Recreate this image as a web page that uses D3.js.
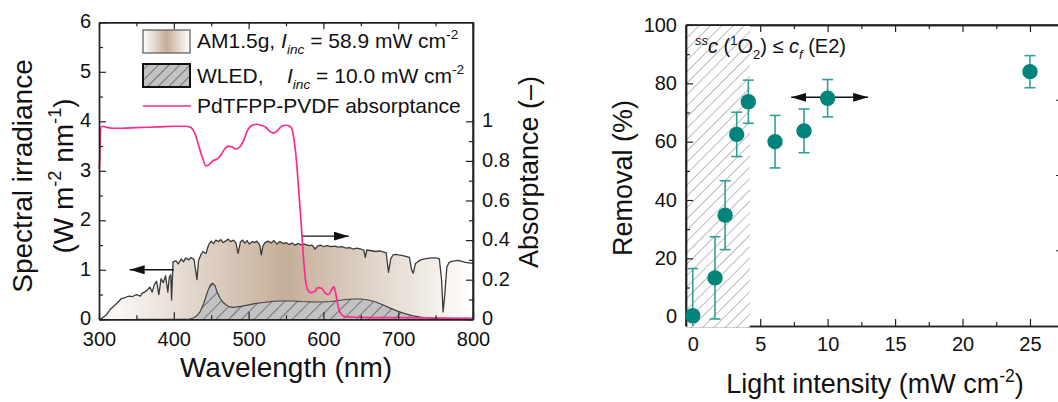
<!DOCTYPE html>
<html><head><meta charset="utf-8">
<script src="https://cdn.jsdelivr.net/npm/d3@7"></script>
<style>
body{margin:0;background:#fff}
svg{display:block}
text{font-family:"Liberation Sans",Arial,sans-serif;fill:#111}
</style>
</head><body>
<svg id="c" width="1058" height="402"></svg>
<script>
// ---------- DATA ----------
const amWavelength = [300,305,310,315,320,325,330,335,340,345,350,355,358,362,365,368,371,374,377,380,383,386,389,392,394,396,397,399,403,406,410,413,416,420,423,427,431,433,436,439,443,446,448,450,453,456,460,463,466,470,473,476,480,483,486,489,492,495,498,501,505,508,511,515,517,519,522,526,530,534,538,542,546,550,554,558,562,566,570,575,580,585,589,592,596,600,605,610,615,620,625,630,635,640,645,650,654,656,658,662,666,670,675,680,684,687,690,693,697,700,705,710,715,718,720,723,726,730,735,740,745,750,755,758,760,762,765,768,772,776,780,785,790,795,800];
const amIrradiance = [0.0,0.03,0.09,0.2,0.27,0.34,0.42,0.44,0.47,0.46,0.5,0.47,0.53,0.56,0.6,0.65,0.55,0.7,0.77,0.5,0.82,0.74,0.88,0.55,0.85,0.9,0.39,1.16,1.18,1.12,1.22,1.16,1.24,1.2,1.25,1.21,0.8,1.18,1.3,1.37,1.33,1.48,1.54,1.58,1.53,1.6,1.57,1.61,1.55,1.59,1.62,1.57,1.6,1.55,1.33,1.56,1.6,1.54,1.59,1.52,1.57,1.55,1.58,1.5,1.3,1.48,1.55,1.58,1.54,1.59,1.52,1.57,1.53,1.55,1.51,1.54,1.5,1.53,1.51,1.52,1.49,1.5,1.42,1.48,1.5,1.47,1.49,1.47,1.48,1.46,1.47,1.44,1.45,1.42,1.44,1.42,1.4,1.25,1.4,1.39,1.38,1.37,1.38,1.36,1.34,0.95,1.22,1.3,1.31,1.3,1.29,1.27,1.25,1.0,0.93,1.12,1.16,1.2,1.22,1.23,1.24,1.24,1.22,0.8,0.15,0.45,1.05,1.15,1.17,1.18,1.19,1.17,1.15,1.14,1.13];
const ledWavelength = [350,420,425,430,435,440,445,449,452,455,458,462,466,470,475,480,490,500,510,520,530,540,550,560,570,580,590,600,610,620,630,640,650,660,670,680,690,700,710,720,730,740,750,760,780,800];
const ledIrradiance = [0,0,0.02,0.06,0.15,0.32,0.55,0.7,0.73,0.68,0.55,0.42,0.34,0.29,0.25,0.24,0.26,0.29,0.32,0.34,0.36,0.37,0.37,0.37,0.36,0.355,0.35,0.35,0.36,0.38,0.4,0.41,0.41,0.39,0.35,0.29,0.22,0.16,0.11,0.07,0.045,0.03,0.02,0.01,0.005,0];
const absWavelength = [300,301,302,304,310,320,330,350,380,400,415,422,428,433,438,443,447,452,458,463,468,473,478,483,488,493,498,503,510,517,523,528,533,538,544,550,555,558,561,564,567,570,573,576,579,583,588,593,598,603,607,611,614,617,620,624,630,650,700,800];
const absorptance = [0.76,0.8,0.96,0.975,0.97,0.965,0.965,0.968,0.972,0.975,0.975,0.97,0.94,0.88,0.82,0.775,0.78,0.8,0.81,0.83,0.86,0.875,0.87,0.86,0.87,0.9,0.95,0.975,0.985,0.98,0.97,0.95,0.94,0.95,0.975,0.98,0.975,0.96,0.9,0.8,0.65,0.5,0.33,0.2,0.15,0.135,0.14,0.16,0.155,0.13,0.125,0.15,0.165,0.12,0.06,0.025,0.012,0.01,0.008,0.005];

const intensity  = [0, 1.65, 2.4, 3.26, 4.12, 6.1, 8.25, 10.0, 25.0];
const removal    = [0.3, 13.3, 34.8, 62.5, 73.7, 60.0, 63.7, 74.9, 84.0];
const removalErr = [16.2, 14.1, 11.8, 7.6, 7.4, 9.0, 7.5, 6.4, 5.5];

const wlTicks  = [300,400,500,600,700,800];
const wlMinor  = [350,450,550,650,750];
const irrTicks = [0,1,2,3,4,5,6];
const irrMinor = [0.5,1.5,2.5,3.5,4.5,5.5];
const absTicks = [0,0.2,0.4,0.6,0.8,1];
const absLabels = ["0","0.2","0.4","0.6","0.8","1"];
const absMinor = [0.1,0.3,0.5,0.7,0.9];
const intTicks = [0,5,10,15,20,25];
const intMinor = [2.5,7.5,12.5,17.5,22.5];
const remTicks = [0,20,40,60,80,100];
const remMinor = [10,30,50,70,90];

// ---------- SETUP ----------
const svg = d3.select("#c");
const defs = svg.append("defs");
const pink = "#ff2a8e";
const teal = "#00847b";
const tealErr = "#2f9f97";
const axisCol = "#222";

function rich(sel, parts, base) {
  let shift = 0;
  parts.forEach(p => {
    const target = p.pos === "sup" ? -base * 0.42 : p.pos === "sub" ? base * 0.28 : 0;
    const ts = sel.append("tspan").text(p.t).attr("dy", target - shift);
    shift = target;
    if (p.pos) ts.attr("font-size", base * 0.65);
    if (p.i) ts.attr("font-style", "italic");
    if (p.x != null) ts.attr("x", p.x);
  });
}

const g1 = defs.append("linearGradient").attr("id","amGrad").attr("gradientUnits","userSpaceOnUse");
const g2 = defs.append("linearGradient").attr("id","amGradLeg");
[[0,"#ffffff"],[0.5,"#c5ae98"],[1,"#ffffff"]].forEach(s=>{
  g1.append("stop").attr("offset",s[0]).attr("stop-color",s[1]);
  g2.append("stop").attr("offset",s[0]).attr("stop-color",s[1]);
});
function hatch(id, spacing, bg, col, w) {
  const p = defs.append("pattern").attr("id",id).attr("patternUnits","userSpaceOnUse")
    .attr("width",spacing).attr("height",spacing).attr("patternTransform","rotate(45)");
  if (bg) p.append("rect").attr("width",spacing).attr("height",spacing).attr("fill",bg);
  p.append("line").attr("x1",0).attr("y1",0).attr("x2",0).attr("y2",spacing)
    .attr("stroke",col).attr("stroke-width",w);
}
hatch("ledHatch", 9, "#c2c2c2", "#333", 1.1);
hatch("ledHatchLeg", 7.5, "#c2c2c2", "#333", 1.1);
hatch("grayHatch", 8, "#ffffff", "#858585", 1.1);

defs.append("marker").attr("id","arr").attr("markerUnits","userSpaceOnUse")
  .attr("markerWidth",16).attr("markerHeight",9).attr("refX",15).attr("refY",4.5)
  .attr("orient","auto-start-reverse")
  .append("path").attr("d","M0,0 L15,4.5 L0,9 Z").attr("fill","#111");

// ---------- LEFT PANEL ----------
const xL = d3.scaleLinear().domain([300,800]).range([99,473]);
const yL = d3.scaleLinear().domain([0,6]).range([319.3,22.3]);
const yA = d3.scaleLinear().domain([0,1.5]).range([319.3,22.3]);
g1.attr("x1",xL(300)).attr("x2",xL(800));

const L = svg.append("g");
const amData = amWavelength.map((w,i)=>[w,amIrradiance[i]]);
const ledData = ledWavelength.map((w,i)=>[w,ledIrradiance[i]]);
const absData = absWavelength.map((w,i)=>[w,absorptance[i]]);

L.append("path").datum(amData).attr("fill","url(#amGrad)")
  .attr("d", d3.area().x(d=>xL(d[0])).y0(yL(0)).y1(d=>yL(d[1])));
L.append("path").datum(ledData).attr("fill","url(#ledHatch)")
  .attr("d", d3.area().x(d=>xL(d[0])).y0(yL(0)).y1(d=>yL(d[1])));
L.append("path").datum(ledData).attr("fill","none").attr("stroke","#444").attr("stroke-width",1.2)
  .attr("d", d3.line().x(d=>xL(d[0])).y(d=>yL(d[1])));
L.append("path").datum(amData).attr("fill","none").attr("stroke","#3a3a3a").attr("stroke-width",1.3)
  .attr("stroke-linejoin","round")
  .attr("d", d3.line().x(d=>xL(d[0])).y(d=>yL(d[1])));
L.append("path").datum(absData).attr("fill","none").attr("stroke",pink).attr("stroke-width",1.7)
  .attr("d", d3.line().curve(d3.curveMonotoneX).x(d=>xL(d[0])).y(d=>yA(d[1])));

L.append("line").attr("x1",xL(400)).attr("x2",xL(341)).attr("y1",yL(1.0)).attr("y2",yL(1.0))
  .attr("stroke","#111").attr("stroke-width",1.4).attr("marker-end","url(#arr)");
L.append("line").attr("x1",xL(572)).attr("x2",xL(634)).attr("y1",yA(0.42)).attr("y2",yA(0.42))
  .attr("stroke","#111").attr("stroke-width",1.4).attr("marker-end","url(#arr)");

function styleAxis(g, fs) {
  g.selectAll(".domain").attr("stroke",axisCol).attr("stroke-width",1.4);
  g.selectAll(".tick line").attr("stroke",axisCol).attr("stroke-width",1.2);
  g.selectAll("text").attr("font-size",fs).attr("font-family",null);
  g.attr("font-family",null).attr("font-size",null);
}
function axes(panel, x, y, xt, xm, yt, ym, fs, xpad, ypad, yOffset) {
  const [x0,x1] = x.range(), [y0,y1] = y.range();
  let a;
  a = panel.append("g").attr("transform",`translate(0,${y0})`)
    .call(d3.axisBottom(x).tickValues(xt).tickSizeInner(-7).tickSizeOuter(0).tickPadding(xpad));
  styleAxis(a, fs);
  a = panel.append("g").attr("transform",`translate(0,${y0})`)
    .call(d3.axisBottom(x).tickValues(xm).tickSizeInner(-4).tickSizeOuter(0).tickFormat(""));
  styleAxis(a, fs);
  a = panel.append("g").attr("transform",`translate(0,${y1})`)
    .call(d3.axisTop(x).tickValues(xt).tickSizeInner(-7).tickSizeOuter(0).tickFormat(""));
  styleAxis(a, fs);
  a = panel.append("g").attr("transform",`translate(0,${y1})`)
    .call(d3.axisTop(x).tickValues(xm).tickSizeInner(-4).tickSizeOuter(0).tickFormat(""));
  styleAxis(a, fs);
  a = panel.append("g").attr("transform",`translate(${x0},0)`)
    .call(d3.axisLeft(y).tickValues(yt).tickSizeInner(-7).tickSizeOuter(0).tickPadding(ypad)
      .tickFormat(d3.format("d")));
  styleAxis(a, fs);
  if (yOffset) a.selectAll("text").attr("dy", yOffset);
  a = panel.append("g").attr("transform",`translate(${x0},0)`)
    .call(d3.axisLeft(y).tickValues(ym).tickSizeInner(-4).tickSizeOuter(0).tickFormat(""));
  styleAxis(a, fs);
}
axes(L, xL, yL, wlTicks, wlMinor, irrTicks, irrMinor, 20, 13, 8, "0.28em");
let ra = L.append("g").attr("transform",`translate(${xL(800)},0)`)
  .call(d3.axisRight(yA).tickValues(absTicks).tickSizeInner(-7).tickSizeOuter(0).tickPadding(9)
    .tickFormat((d,i)=>absLabels[i]));
styleAxis(ra, 20);
ra.selectAll("text").attr("dy","0.28em");
ra = L.append("g").attr("transform",`translate(${xL(800)},0)`)
  .call(d3.axisRight(yA).tickValues(absMinor).tickSizeInner(-4).tickSizeOuter(0).tickFormat(""));
styleAxis(ra, 20);
L.append("line").attr("x1",xL(800)).attr("x2",xL(800)).attr("y1",yA(1.5)).attr("y2",yA(0))
  .attr("stroke",axisCol).attr("stroke-width",1.4);

L.append("text").attr("x",(xL(300)+xL(800))/2).attr("y",377).attr("text-anchor","middle")
  .attr("font-size",28).text("Wavelength (nm)");
L.append("text").attr("transform","translate(32,176) rotate(-90)").attr("text-anchor","middle")
  .attr("font-size",28).text("Spectral irradiance");
rich(L.append("text").attr("transform","translate(73,176) rotate(-90)").attr("text-anchor","middle").attr("font-size",28),
  [{t:"(W m"},{t:"-2",pos:"sup"},{t:" nm"},{t:"-1",pos:"sup"},{t:")"}], 28);
L.append("text").attr("transform","translate(538,172) rotate(-90)").attr("text-anchor","middle")
  .attr("font-size",27).text("Absorptance (\u2013)");

// legend
const lg = L.append("g");
lg.append("rect").attr("x",143).attr("y",30).attr("width",47).attr("height",23)
  .attr("fill","url(#amGradLeg)").attr("stroke","#555").attr("stroke-width",1.2);
lg.append("rect").attr("x",143).attr("y",64).attr("width",47).attr("height",23)
  .attr("fill","url(#ledHatchLeg)").attr("stroke","#111").attr("stroke-width",2);
lg.append("line").attr("x1",143).attr("x2",191).attr("y1",106).attr("y2",106)
  .attr("stroke",pink).attr("stroke-width",1.7);
rich(lg.append("text").attr("x",197).attr("y",48).attr("font-size",21),
  [{t:"AM1.5g, "},{t:"I",i:true},{t:"inc",pos:"sub",i:true},{t:" = 58.9 mW cm"},{t:"-2",pos:"sup"}], 21);
rich(lg.append("text").attr("x",197).attr("y",83).attr("font-size",21),
  [{t:"WLED,"},{t:"I",i:true,x:287},{t:"inc",pos:"sub",i:true},{t:" = 10.0 mW cm"},{t:"-2",pos:"sup"}], 21);
lg.append("text").attr("x",197).attr("y",113).attr("font-size",21).text("PdTFPP-PVDF absorptance");

// ---------- RIGHT PANEL ----------
const xR = d3.scaleLinear().domain([-0.5,27.3]).range([686,1061]);
const yR = d3.scaleLinear().domain([-3.2,100]).range([326,25]);
const yR2 = d3.scaleLinear().domain([0,1]).range([326,25]);
const R = svg.append("g");
axes(R, xR, yR, intTicks, intMinor, remTicks, remMinor, 20, 11, 9, "0.3em");
R.append("line").attr("x1",xR.range()[1]).attr("x2",xR.range()[1]).attr("y1",25).attr("y2",326)
  .attr("stroke",axisCol).attr("stroke-width",1.4);
R.selectAll("line.r2").data([0.25,0.5,0.75]).join("line").attr("class","r2")
  .attr("x1",xR.range()[1]-5).attr("x2",xR.range()[1]).attr("y1",d=>yR2(d)).attr("y2",d=>yR2(d))
  .attr("stroke",axisCol).attr("stroke-width",1.2);

R.append("rect").attr("x",686).attr("y",26).attr("width",xR(4.24)-686).attr("height",301.5)
  .attr("fill","url(#grayHatch)");
R.append("line").attr("x1",686).attr("x2",686).attr("y1",25).attr("y2",326).attr("stroke",axisCol).attr("stroke-width",1.4);
let la = R.append("g").attr("transform","translate(686,0)")
  .call(d3.axisLeft(yR).tickValues(remTicks).tickSizeInner(-7).tickSizeOuter(0).tickFormat(""));
styleAxis(la, 20);
la = R.append("g").attr("transform","translate(686,0)")
  .call(d3.axisLeft(yR).tickValues(remMinor).tickSizeInner(-4).tickSizeOuter(0).tickFormat(""));
styleAxis(la, 20);
R.append("line").attr("x1",686).attr("x2",1061).attr("y1",25).attr("y2",25).attr("stroke",axisCol).attr("stroke-width",1.4);

defs.append("clipPath").attr("id","rclip").append("rect").attr("x",686).attr("y",25).attr("width",375).attr("height",301);

rich(R.append("text").attr("x",695).attr("y",53).attr("font-size",20),
  [{t:"ss",pos:"sup",i:true},{t:"c",i:true},{t:" ("},{t:"1",pos:"sup"},{t:"O"},{t:"2",pos:"sub"},{t:") \u2264 "},
   {t:"c",i:true},{t:"f",pos:"sub",i:true},{t:" (E2)"}], 20);

R.append("line").attr("x1",xR(7.3)).attr("x2",xR(13.0)).attr("y1",yR(75.2)).attr("y2",yR(75.2))
  .attr("stroke","#111").attr("stroke-width",1.5)
  .attr("marker-start","url(#arr)").attr("marker-end","url(#arr)");

const pts = intensity.map((x,i)=>({x, y:removal[i], e:removalErr[i]}));
const eb = R.append("g").attr("clip-path","url(#rclip)").attr("stroke",tealErr).attr("stroke-width",1.6);
pts.forEach(p=>{
  eb.append("line").attr("x1",xR(p.x)).attr("x2",xR(p.x)).attr("y1",yR(p.y-p.e)).attr("y2",yR(p.y+p.e));
  [p.y-p.e, p.y+p.e].forEach(v=>{
    eb.append("line").attr("x1",xR(p.x)-5.5).attr("x2",xR(p.x)+5.5).attr("y1",yR(v)).attr("y2",yR(v));
  });
});
R.append("g").selectAll("circle").data(pts).join("circle")
  .attr("cx",d=>xR(d.x)).attr("cy",d=>yR(d.y)).attr("r",7.7).attr("fill",teal);

R.append("text").attr("transform","translate(632,178) rotate(-90)").attr("text-anchor","middle")
  .attr("font-size",27).text("Removal (%)");
rich(R.append("text").attr("x",875).attr("y",393).attr("text-anchor","middle").attr("font-size",27),
  [{t:"Light intensity (mW cm"},{t:"-2",pos:"sup"},{t:")"}], 27);
</script>
</body></html>
